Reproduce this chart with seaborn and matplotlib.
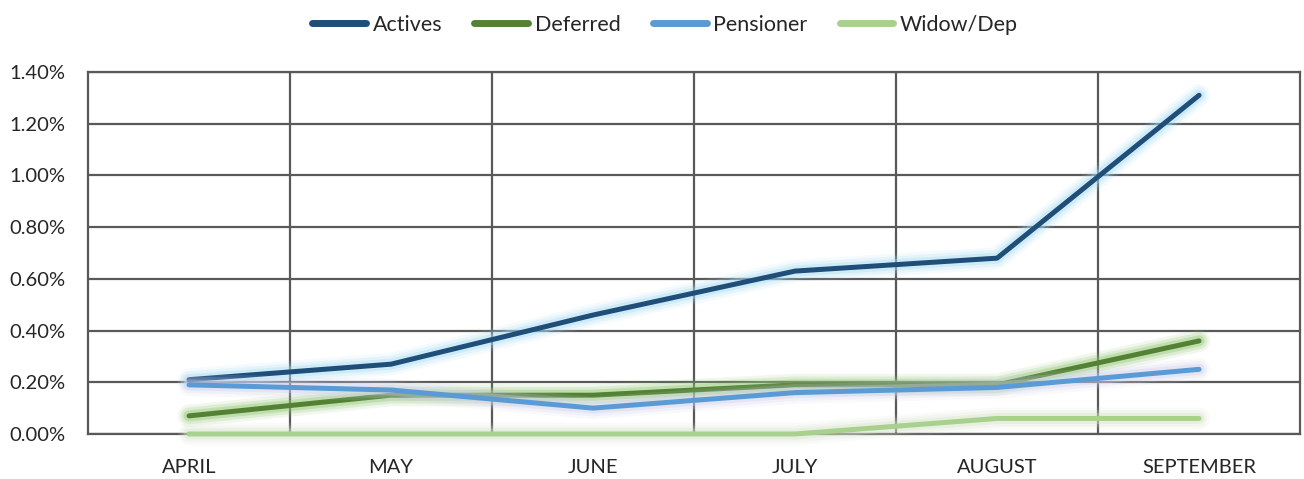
import pandas as pd
import seaborn as sns
import matplotlib.pyplot as plt
import matplotlib.patheffects as pe
from matplotlib.ticker import PercentFormatter, FixedLocator

# Data (values in %)
months = ['APRIL', 'MAY', 'JUNE', 'JULY', 'AUGUST', 'SEPTEMBER']
actives = [0.21, 0.27, 0.46, 0.63, 0.68, 1.31]
deferred = [0.07, 0.15, 0.15, 0.19, 0.19, 0.36]
pensioner = [0.19, 0.17, 0.10, 0.16, 0.18, 0.25]
widow_dep = [0.00, 0.00, 0.00, 0.00, 0.06, 0.06]

series = ['Actives', 'Deferred', 'Pensioner', 'Widow/Dep']
colors = ['#1F4E79', '#548235', '#5B9BD5', '#A9D18E']
glows = ['#A8DCF5', '#8CC46A', '#CFCFEE', '#D6E2CC']

df = pd.DataFrame({'Month': months * 4,
                   'Group': sum([[s] * len(months) for s in series], []),
                   'Value': actives + deferred + pensioner + widow_dep})
df['pos'] = df['Month'].map({m: i for i, m in enumerate(months)})

sns.set_style('white')
plt.rcParams['font.family'] = ['Lato', 'DejaVu Sans']

fig = plt.figure(figsize=(13.04, 4.79), dpi=100)
ax = fig.add_axes([0.0675, 0.094, 0.9295, 0.7557])

sns.lineplot(data=df, x='pos', y='Value', hue='Group', hue_order=series,
             palette=colors, linewidth=3.6, ax=ax, legend=False)

# soft glow around each line
for line, g in zip(ax.get_lines(), glows):
    line.set_solid_capstyle('round')
    line.set_clip_on(False)
    line.set_zorder(3)
    line.set_path_effects([
        pe.Stroke(linewidth=16, foreground=g, alpha=0.12),
        pe.Stroke(linewidth=12, foreground=g, alpha=0.2),
        pe.Stroke(linewidth=8, foreground=g, alpha=0.35),
        pe.Normal()])

ax.set_xlim(-0.5, len(months) - 0.5)
ax.set_ylim(0, 1.4)
ax.set_xticks(range(len(months)))
ax.set_xticklabels(months)
ax.xaxis.set_minor_locator(FixedLocator([i + 0.5 for i in range(len(months) - 1)]))
ax.set_yticks([0, 0.2, 0.4, 0.6, 0.8, 1.0, 1.2, 1.4])
ax.yaxis.set_major_formatter(PercentFormatter(decimals=2))

ax.grid(True, which='major', axis='y', color='#595959', linewidth=1.6)
ax.grid(True, which='minor', axis='x', color='#595959', linewidth=1.6)
ax.set_axisbelow(True)
for s in ax.spines.values():
    s.set_color('#595959')
    s.set_linewidth(1.6)
    s.set_zorder(2)

ax.tick_params(axis='both', which='both', length=0, labelsize=14.5, colors='#262626')
ax.tick_params(axis='x', pad=18)
ax.tick_params(axis='y', pad=16)
ax.set_xlabel('')
ax.set_ylabel('')

handles = [plt.Line2D([], [], color=c, linewidth=5, solid_capstyle='round') for c in colors]
fig.legend(handles, series, loc='upper center', bbox_to_anchor=(0.51, 1.01), ncol=4,
           frameon=False, fontsize=15.5, handlelength=2.5, handletextpad=0.3,
           columnspacing=1.5, labelcolor='#262626')

fig.savefig('out.png', dpi=100)
